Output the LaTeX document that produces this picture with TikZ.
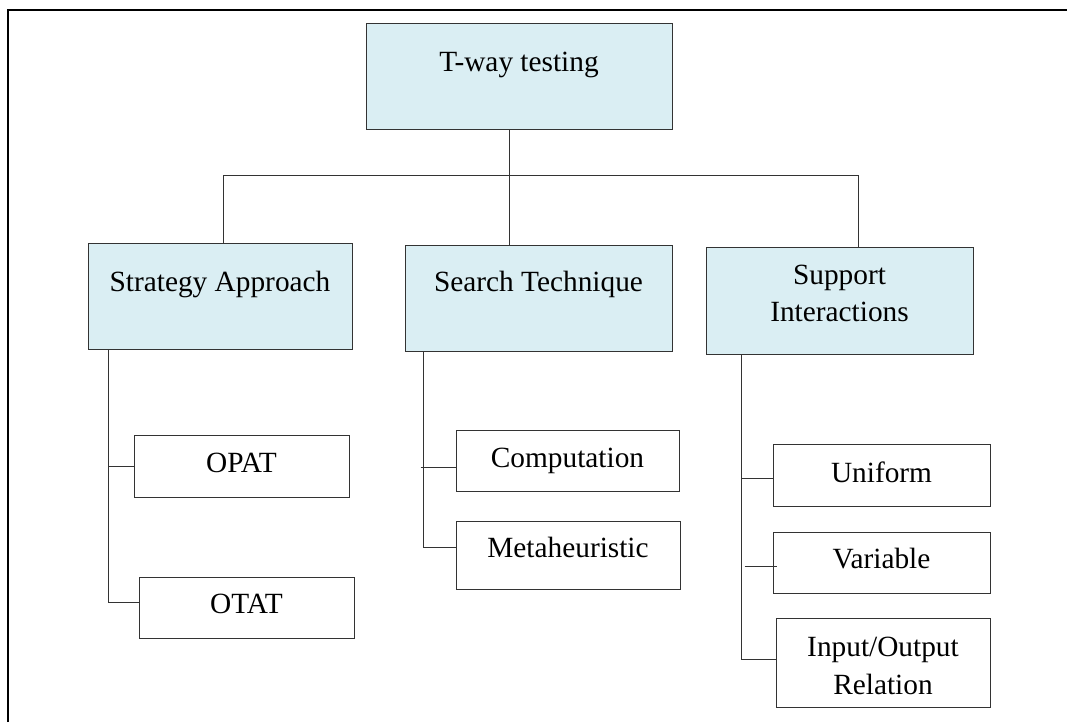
\documentclass[tikz,border=0pt]{standalone}
\usepackage{fontspec}
\setmainfont{Liberation Serif}
\usetikzlibrary{calc}
\definecolor{boxfill}{HTML}{DAEEF3}
\definecolor{edge}{HTML}{333333}
\begin{document}
\begin{tikzpicture}[x=0.75pt,y=-0.75pt,
  wh/.style 2 args={minimum width=#1*0.75pt, minimum height=#2*0.75pt},
  box/.style={draw=edge, line width=0.75pt, inner sep=0pt, fill=white},
  bluebox/.style={box, fill=boxfill},
  lbl/.style={inner sep=0pt, text height=14.4pt, text depth=0pt,
              font=\fontsize{22}{26}\selectfont},
  link/.style={draw=edge, line width=0.75pt}]
\useasboundingbox (0,0) rectangle (1067,722);
\fill[white] (0,0) rectangle (1067,722);

% outer frame (left and top edges)
\draw[line width=1.5pt] (8,722) |- (1067,10);

% root
\node[bluebox, wh={306}{106}] (tway) at (519,76) {};
\node[lbl] (twayT) at (519,61.5) {T-way testing};

% second level
\node[bluebox, wh={264}{106}] (strat)   at (220,296)     {};
\node[bluebox, wh={267}{106}] (search)  at (538.5,298)   {};
\node[bluebox, wh={267}{107}] (support) at (839.5,300.5) {};
\node[lbl] (stratT)  at (220,282)     {Strategy Approach};
\node[lbl] (searchT) at (538.5,282)   {Search Technique};
\node[lbl] (suppT1)  at (839.5,274.5) {Support};
\node[lbl] (suppT2)  at (839.5,312)   {Interactions};

% leaves
\node[box, wh={215}{62}] (opat) at (241.5,466)   {};
\node[box, wh={215}{61}] (otat) at (246.5,607.5) {};
\node[box, wh={223}{61}] (comp) at (567.5,460.5) {};
\node[box, wh={224}{68}] (meta) at (568,555)     {};
\node[box, wh={217}{62}] (unif) at (881.5,475)   {};
\node[box, wh={217}{61}] (var)  at (881.5,562.5) {};
\node[box, wh={214}{89}] (io)   at (883,662.5)   {};
\node[lbl] (opatT) at (241.5,462.5) {OPAT};
\node[lbl] (otatT) at (246.5,604)   {OTAT};
\node[lbl] (compT) at (567.5,457.5) {Computation};
\node[lbl] (metaT) at (568,547.5)   {Metaheuristic};
\node[lbl] (unifT) at (881.5,472.5) {Uniform};
\node[lbl] (varT)  at (881.5,559)   {Variable};
\node[lbl] (ioT1)  at (883,646.5)   {Input/Output};
\node[lbl] (ioT2)  at (883,684.5)   {Relation};

% root to second level
\coordinate (stem) at (509,129);
\coordinate (hubL) at (223,175);
\coordinate (hubR) at (858,175);
\draw[link] (stem) -- (stem |- search.north);
\draw[link] (hubL |- strat.north) -- (hubL) -- (hubR) -- (hubR |- support.north);

% strategy branch
\coordinate (sT) at (108,349);
\draw[link] (sT) |- ($(otat.west)+(0,-5.5)$);
\draw[link] (sT |- opat.west) -- (opat.west);

% search branch
\coordinate (cT) at (423,351);
\coordinate (cJ) at ($(comp.west)+(0,6.5)$);
\draw[link] (cT) |- ($(meta.west)+(0,-8)$);
\draw[link] ($(cJ)+(-35,0)$) -- (cJ);

% support branch
\coordinate (uT) at (741,354);
\coordinate (uJ) at ($(unif.west)+(0,3)$);
\coordinate (vJ) at ($(var.west)+(4,3.5)$);
\coordinate (vFree) at ($(vJ)+(-32,0)$);
\draw[link] (uT) |- ($(io.west)+(0,-3.5)$);
\draw[link] (uT |- uJ) -- (uJ);
\draw[link] (vFree) -- (vJ);
\end{tikzpicture}
\end{document}
